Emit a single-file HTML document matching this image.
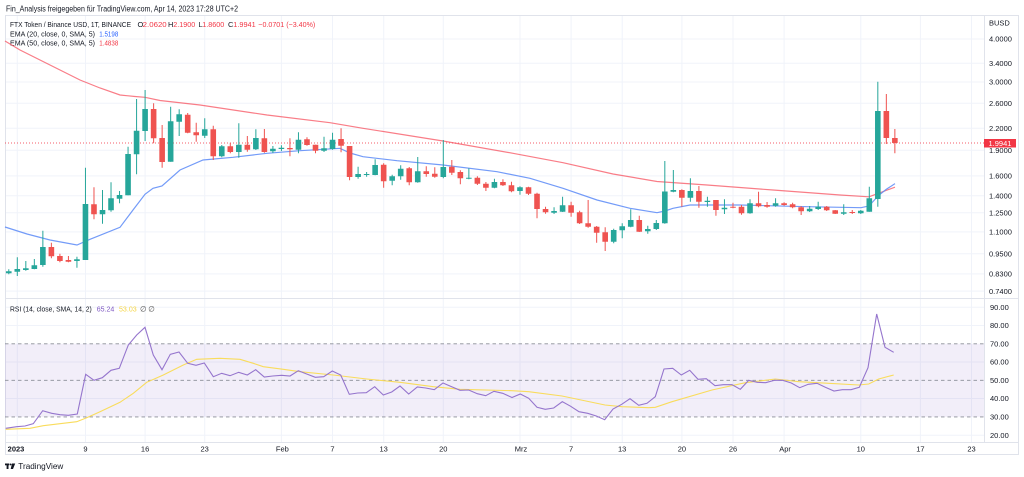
<!DOCTYPE html>
<html><head><meta charset="utf-8"><style>
html,body{margin:0;padding:0;background:#fff;}
svg{display:block;font-family:"Liberation Sans",Arial,sans-serif;}
</style></head><body>
<svg width="1024" height="477" viewBox="0 0 1024 477" xmlns="http://www.w3.org/2000/svg">
<rect x="0" y="0" width="1024" height="477" fill="#fff"/>
<text x="6" y="11.5" font-size="8" fill="#131722" textLength="232" lengthAdjust="spacingAndGlyphs">Fin_Analysis freigegeben für TradingView.com, Apr 14, 2023 17:28 UTC+2</text>

<!-- grid -->
<g stroke="#f0f3fa" stroke-width="1">
<path d="M5 39H984M5 63.3H984M5 82H984M5 103.3H984M5 128.3H984M5 150.2H984M5 175.9H984M5 195.8H984M5 212.8H984M5 231.9H984M5 253.8H984M5 273.9H984M5 291.1H984"/>
<path d="M5 307.3H984M5 325.5H984M5 362H984M5 398.5H984M5 435.2H984"/>
<path d="M17.3 15V442M85.5 15V442M145.1 15V442M204.7 15V442M281.4 15V442M332.5 15V442M383.7 15V442M443.3 15V442M520 15V442M571.1 15V442M622.2 15V442M681.9 15V442M733 15V442M784.1 15V442M860.8 15V442M920.4 15V442M971.5 15V442"/>
</g>

<!-- frame -->
<g stroke="#e0e3eb" stroke-width="1" fill="none">
<rect x="5.5" y="15.5" width="1013" height="439"/>
<path d="M984.5 15V442M5 298.5H1019M5 442.5H1019"/>
</g>

<!-- legend -->
<g font-size="7.5">
<text x="10" y="27" fill="#131722" textLength="121" lengthAdjust="spacingAndGlyphs">FTX Token / Binance USD, 1T, BINANCE</text>
<text x="137.5" y="27" fill="#131722">O</text>
<text x="142.7" y="27" fill="#f23645" textLength="24" lengthAdjust="spacingAndGlyphs">2.0620</text>
<text x="168" y="27" fill="#131722">H</text>
<text x="173.3" y="27" fill="#f23645" textLength="22" lengthAdjust="spacingAndGlyphs">2.1900</text>
<text x="198.5" y="27" fill="#131722">L</text>
<text x="202.3" y="27" fill="#f23645" textLength="22" lengthAdjust="spacingAndGlyphs">1.8600</text>
<text x="228" y="27" fill="#131722">C</text>
<text x="233.3" y="27" fill="#f23645" textLength="22.4" lengthAdjust="spacingAndGlyphs">1.9941</text>
<text x="258.3" y="27" fill="#f23645" textLength="57" lengthAdjust="spacingAndGlyphs">−0.0701 (−3.40%)</text>
<text x="10" y="36.5" fill="#131722" textLength="85" lengthAdjust="spacingAndGlyphs">EMA (20, close, 0, SMA, 5)</text>
<text x="99.3" y="36.5" fill="#2962ff" textLength="19" lengthAdjust="spacingAndGlyphs">1.5198</text>
<text x="10" y="45.5" fill="#131722" textLength="85" lengthAdjust="spacingAndGlyphs">EMA (50, close, 0, SMA, 5)</text>
<text x="99.3" y="45.5" fill="#f23645" textLength="19" lengthAdjust="spacingAndGlyphs">1.4838</text>
</g>

<!-- price axis -->
<g font-size="7.5" fill="#131722">
<text x="989" y="25.5">BUSD</text>
<text x="989" y="41.7">4.0000</text>
<text x="989" y="66">3.4000</text>
<text x="989" y="84.7">3.0000</text>
<text x="989" y="106">2.6000</text>
<text x="989" y="131">2.2000</text>
<text x="989" y="152.9">1.9000</text>
<text x="989" y="178.6">1.6000</text>
<text x="989" y="198.5">1.4000</text>
<text x="989" y="215.5">1.2500</text>
<text x="989" y="234.6">1.1000</text>
<text x="989" y="256.5">0.9500</text>
<text x="989" y="276.6">0.8300</text>
<text x="989" y="293.8">0.7400</text>
</g>

<!-- EMA lines -->
<polyline fill="none" stroke="#f7525f" stroke-opacity="0.75" stroke-width="1.2" points="5,41 20,50 40,60 60,70 80,80 100,88 120,95 135,96.5 145,97.3 160,100.5 200,105 267,115 330,122.7 363,128.3 443,141 513,153.3 563,162.7 613,174 657,181.5 707,185 773,190 840,195 869,196.8 878,193.5 886,190.5 895,187.2"/>
<polyline fill="none" stroke="#5b8af7" stroke-opacity="0.85" stroke-width="1.2" points="5,227 27,234 50,240 77,245 90,239.3 120,227.3 133,210 145,194.3 153,188.3 162,186 180,170 203,160 233,157.3 267,153.3 300,150.7 340,148.3 350,153 363,156.7 397,160.7 443,165 497,171.7 530,178.3 563,188.3 597,200 630,208.3 657,212.7 665,211 673,208.3 690,205 740,205 807,206.7 861,207.7 869,206 878,196 886,189.5 895,183.6"/>

<!-- last price line -->
<path d="M5 143H984" stroke="#f23645" stroke-width="1" stroke-dasharray="1,2" stroke-opacity="0.8"/>

<!-- green candles -->
<path stroke="#26a69a" stroke-width="1" fill="none" d="M8.78 269.3V274.3M17.3 257.3V276M25.82 261V270.7M34.34 259V269.3M42.86 230.7V266.7M76.94 256.7V267.7M85.46 167.7V260M102.5 190V223.7M111.02 182.3V211.7M119.54 191V203.3M128.06 146.7V195.3M136.58 99V174.3M145.1 90V141M170.66 106.7V161.7M179.18 109.3V136M204.74 118.3V138M221.78 145V157.3M238.82 123.3V157.7M255.86 129.3V150M272.9 146V153M281.42 145.3V151M298.46 132.3V153.3M324.02 136.7V152M332.54 132.7V149.7M358.1 166.7V178.7M366.62 172V176.7M375.14 159.3V175.3M392.18 174.7V185.3M400.7 165.3V179.7M417.74 157V182.7M443.3 140V178.3M468.86 168.3V179.3M494.42 178.7V188.3M519.98 186.3V194.7M554.06 207.3V214M562.58 196.7V212M613.7 228.7V243.3M622.22 223.3V238.3M630.74 209.3V227.3M647.78 225.7V233.7M656.3 220V230M664.82 161V223.7M673.34 170V192.3M690.38 178.3V201.7M707.42 196.7V206.7M724.46 199.3V214M750.02 199.3V213.7M775.58 198.3V206.7M809.66 206V212M818.18 201.7V210M843.74 204.3V215M860.78 210V214M869.3 186.7V211.7M877.82 81.7V206.7"/>
<path fill="#26a69a" d="M5.98 271.3h5.6V273.3h-5.6zM14.5 269h5.6V271.7h-5.6zM23.02 268.3h5.6V270h-5.6zM31.54 265.3h5.6V269h-5.6zM40.06 247h5.6V265h-5.6zM74.14 259.3h5.6V261h-5.6zM82.66 204h5.6V260h-5.6zM99.7 210h5.6V214.3h-5.6zM108.22 198.3h5.6V210.3h-5.6zM116.74 195h5.6V198.7h-5.6zM125.26 154h5.6V195.3h-5.6zM133.78 130.7h5.6V154.3h-5.6zM142.3 109h5.6V131h-5.6zM167.86 121.3h5.6V161.7h-5.6zM176.38 114.3h5.6V121.7h-5.6zM201.94 129.3h5.6V135.7h-5.6zM218.98 146.3h5.6V156.3h-5.6zM236.02 144.7h5.6V152h-5.6zM253.06 138h5.6V149.3h-5.6zM270.1 148.7h5.6V151.3h-5.6zM278.62 147.7h5.6V149h-5.6zM295.66 139.7h5.6V149.7h-5.6zM321.22 148.3h5.6V150.7h-5.6zM329.74 139.7h5.6V149h-5.6zM355.3 174h5.6V177h-5.6zM363.82 174h5.6V175h-5.6zM372.34 165h5.6V175h-5.6zM389.38 176.3h5.6V180.7h-5.6zM397.9 168.7h5.6V176.3h-5.6zM414.94 171.3h5.6V182.3h-5.6zM440.5 167h5.6V177h-5.6zM466.06 177.7h5.6V178.7h-5.6zM491.62 182h5.6V187.7h-5.6zM517.18 187.3h5.6V191h-5.6zM551.26 211h5.6V212.7h-5.6zM559.78 205.3h5.6V211.7h-5.6zM610.9 230h5.6V241.7h-5.6zM619.42 226.3h5.6V230.3h-5.6zM627.94 220h5.6V226.7h-5.6zM644.98 229h5.6V231.3h-5.6zM653.5 223h5.6V229h-5.6zM662.02 191.5h5.6V223.3h-5.6zM670.54 190h5.6V191.7h-5.6zM687.58 191h5.6V197.7h-5.6zM704.62 200.7h5.6V202h-5.6zM721.66 207.7h5.6V209.3h-5.6zM747.22 203.3h5.6V213.3h-5.6zM772.78 203.3h5.6V205.7h-5.6zM806.86 208.7h5.6V211.3h-5.6zM815.38 206.7h5.6V209h-5.6zM840.94 212.3h5.6V213.7h-5.6zM857.98 210.7h5.6V213.3h-5.6zM866.5 198.3h5.6V211.7h-5.6zM875.02 111h5.6V199h-5.6z"/>

<!-- red candles -->
<path stroke="#ef5350" stroke-width="1" fill="none" d="M51.38 242.7V258.3M59.9 253.7V262.3M68.42 256V262.3M93.98 187.3V219.3M153.62 103.3V143.3M162.14 125V167.7M187.7 113V133.3M196.22 122.7V141.7M213.26 125.7V160M230.3 142.7V153.3M247.34 136V151.7M264.38 129V152.7M289.94 138.3V156.3M306.98 137.3V145.7M315.5 144.7V153.3M341.06 128.3V152.3M349.58 146V180.3M383.66 163.3V187.7M409.22 167V185.3M426.26 166.3V176.7M434.78 167.3V177.7M451.82 160V175M460.34 170.3V184.3M477.38 176.3V185M485.9 182V191M502.94 179.3V186M511.46 181.7V192.3M528.5 186.7V195M537.02 192.7V218.3M545.54 206.7V213.7M571.1 201.7V216.7M579.62 210.7V224M588.14 200V227.7M596.66 226V242.7M605.18 227.3V251M639.26 215.7V232M681.86 189.3V206.7M698.9 186V207.7M715.94 200V215.7M732.98 202.7V208.3M741.5 205V214.7M758.54 191.7V207.3M767.06 202V207.7M784.1 202.3V205.7M792.62 202.7V208.3M801.14 206V215M826.7 206V211M835.22 210V214M852.26 210V214M886.34 94V144M894.86 129V153.3"/>
<path fill="#ef5350" d="M48.58 247h5.6V256.3h-5.6zM57.1 256h5.6V261h-5.6zM65.62 260h5.6V261.7h-5.6zM91.18 204.3h5.6V214.3h-5.6zM150.82 109h5.6V138.3h-5.6zM159.34 138h5.6V162h-5.6zM184.9 114.7h5.6V132.7h-5.6zM193.42 132.3h5.6V135.3h-5.6zM210.46 129.3h5.6V156.3h-5.6zM227.5 146.3h5.6V152h-5.6zM244.54 144.7h5.6V149.7h-5.6zM261.58 138.3h5.6V152h-5.6zM287.14 148h5.6V149.3h-5.6zM304.18 139.3h5.6V145h-5.6zM312.7 144.7h5.6V150.7h-5.6zM338.26 139h5.6V145.7h-5.6zM346.78 146h5.6V177h-5.6zM380.86 164.7h5.6V181.3h-5.6zM406.42 168.3h5.6V182.3h-5.6zM423.46 171.3h5.6V174h-5.6zM431.98 173.7h5.6V176.7h-5.6zM449.02 166.7h5.6V172.7h-5.6zM457.54 172h5.6V178.3h-5.6zM474.58 177.7h5.6V183.7h-5.6zM483.1 183.7h5.6V187.7h-5.6zM500.14 182h5.6V185.3h-5.6zM508.66 185.3h5.6V191.3h-5.6zM525.7 187.3h5.6V193.7h-5.6zM534.22 193.7h5.6V209h-5.6zM542.74 209h5.6V212.3h-5.6zM568.3 205.3h5.6V212.7h-5.6zM576.82 212.3h5.6V223.3h-5.6zM585.34 223.3h5.6V226.7h-5.6zM593.86 226.7h5.6V232.7h-5.6zM602.38 232.3h5.6V241.7h-5.6zM636.46 220h5.6V231.7h-5.6zM679.06 190h5.6V197.7h-5.6zM696.1 191h5.6V201.7h-5.6zM713.14 200h5.6V210h-5.6zM730.18 206.7h5.6V207.7h-5.6zM738.7 206.7h5.6V213.3h-5.6zM755.74 203.3h5.6V206.3h-5.6zM764.26 205h5.6V206.7h-5.6zM781.3 203.3h5.6V205h-5.6zM789.82 204.3h5.6V207.3h-5.6zM798.34 207.3h5.6V211.3h-5.6zM823.9 206.7h5.6V210.3h-5.6zM832.42 210.3h5.6V213.7h-5.6zM849.46 212h5.6V213h-5.6zM883.54 111h5.6V138h-5.6zM892.06 138h5.6V143h-5.6z"/>

<!-- price label -->
<rect x="984" y="139" width="32" height="8.5" fill="#f23645"/>
<text x="988.5" y="146" font-size="7.5" fill="#fff">1.9941</text>

<!-- RSI pane -->
<rect x="5" y="343.8" width="979" height="73.1" fill="#7e57c2" fill-opacity="0.1"/>
<g stroke="#8a8d97" stroke-width="0.9" stroke-dasharray="3.5,3">
<path d="M5 343.8H984M5 380.3H984M5 416.9H984"/>
</g>
<polyline fill="none" stroke="#f9dc5c" stroke-width="1.1" points="5.7,429.3 30,428.3 43.3,425.7 76.7,421.7 86.7,417.7 100,411.7 120,402.3 133.3,393.3 146.7,382.3 163.3,375 183.3,365 196.7,359.3 220,358.3 240,359.3 253.3,363.3 263.3,366.7 283.3,369.3 300,371.7 333.3,375 366.7,379 400,382.3 433.3,386.7 460,389.3 512,390.7 528.7,391.7 562,396 605,405 622,406.7 648.7,407.7 655.3,407.3 672,401.7 712,390 745.3,382.7 775.3,379 798.7,381.7 828.7,383.3 858.7,385 868.7,384 878.7,379 893.7,375"/>
<polyline fill="none" stroke="#9575cd" stroke-width="1.1" points="5.7,428.3 16.7,426.7 25,426 33.3,423.7 42.7,410.7 51.7,413.3 60,414.7 68.3,415.3 77.3,414 85.7,374.3 94,380.3 102.3,377.7 111,370.3 119.3,368.3 128.3,345 136.7,335 145,327.3 153.3,355 162,369.7 170.3,354.3 179,352 187.7,363.3 196,365.3 204.3,363 213.3,376.7 221.7,373.3 230,375.7 238.7,372.3 247.3,375 255.7,369.7 264.3,377 272.7,376 281.7,375.3 290,376 298.3,370.7 306.7,374 315.3,377.3 323.7,376.7 332.3,371 340.7,375 349.3,394.3 357.7,393 366.3,392.7 374.7,386.7 383.3,395 391.7,392 400,386 408.7,394 417.3,387 425.7,388 434.3,389.7 443,383 451.7,386.7 460,390.3 468.7,390 477.3,393.7 485.7,395.7 494,391.3 502.7,393.3 512,397.5 520.3,394 528.7,398.3 537,407.3 545.3,409.3 553.7,408 562.3,401.7 570.7,406.3 579,411.7 587.7,413.3 596.3,416 604.7,419.7 613,409 621.7,404.3 630,398.7 638.7,405.3 647,403.3 655.3,396.7 664,369 672.7,368.3 681.3,375 689.7,370.3 698,379.3 706.3,378.7 715,385.7 723.3,384.7 732,384.7 740.3,389.3 748.7,380.3 757.3,382.3 765.7,382.7 774.3,380.3 782.7,380.3 791.3,383 799.7,387.7 808.3,384.3 817,383.3 825.3,387.3 834,391 842.3,389.7 851,389.7 859.3,387.3 868,367.7 876.7,314 885,347.3 893.7,352.3"/>

<g font-size="7.5">
<text x="10" y="311.5" fill="#131722" textLength="81.7" lengthAdjust="spacingAndGlyphs">RSI (14, close, SMA, 14, 2)</text>
<text x="96.7" y="311.5" fill="#7e57c2" textLength="17.6" lengthAdjust="spacingAndGlyphs">65.24</text>
<text x="119" y="311.5" fill="#f5d544" textLength="17.7" lengthAdjust="spacingAndGlyphs">53.03</text>
<text x="140" y="311.5" fill="#555">∅</text>
<text x="148.3" y="311.5" fill="#555">∅</text>
</g>
<g font-size="7.5" fill="#131722">
<text x="990" y="310">90.00</text>
<text x="990" y="328.2">80.00</text>
<text x="990" y="346.5">70.00</text>
<text x="990" y="364.7">60.00</text>
<text x="990" y="383">50.00</text>
<text x="990" y="401.2">40.00</text>
<text x="990" y="419.6">30.00</text>
<text x="990" y="437.9">20.00</text>
</g>

<!-- time axis -->
<g font-size="7.5" fill="#131722" text-anchor="middle">
<text x="16" y="451.5" font-weight="bold">2023</text>
<text x="85.5" y="451.5">9</text>
<text x="145.1" y="451.5">16</text>
<text x="204.7" y="451.5">23</text>
<text x="282.4" y="451.5">Feb</text>
<text x="332.5" y="451.5">7</text>
<text x="383.7" y="451.5">13</text>
<text x="443.3" y="451.5">20</text>
<text x="521" y="451.5">Mrz</text>
<text x="571.1" y="451.5">7</text>
<text x="622.2" y="451.5">13</text>
<text x="681.9" y="451.5">20</text>
<text x="733" y="451.5">26</text>
<text x="785.1" y="451.5">Apr</text>
<text x="860.8" y="451.5">10</text>
<text x="920.4" y="451.5">17</text>
<text x="971.5" y="451.5">23</text>
</g>

<!-- TradingView logo -->
<g fill="#131722">
<rect x="5" y="463.5" width="4.2" height="1.8"/>
<rect x="6.6" y="463.5" width="1.9" height="5.5"/>
<circle cx="10.6" cy="464.4" r="0.95"/>
<path d="M12 463.5h3.2l-2.2 5.5h-2.3z"/>
</g>
<text x="18.3" y="468.8" font-size="8" fill="#131722" textLength="45" lengthAdjust="spacingAndGlyphs">TradingView</text>
</svg>
</body></html>
